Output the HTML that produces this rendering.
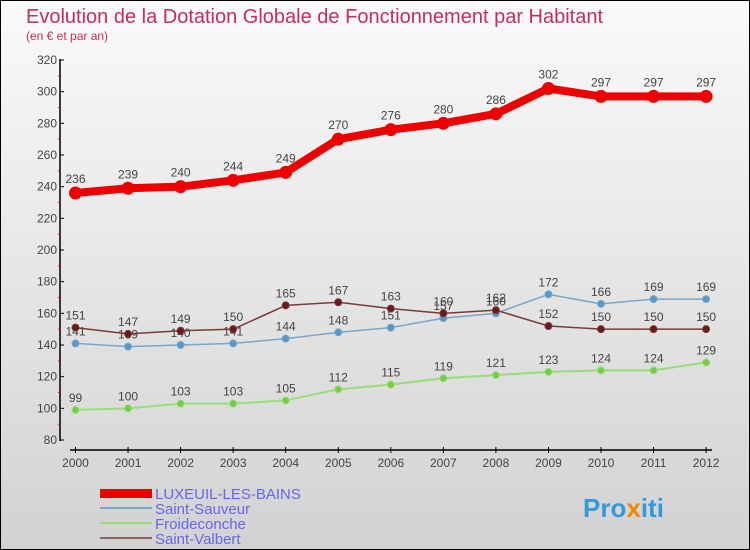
<!DOCTYPE html>
<html><head><meta charset="utf-8"><style>
body{margin:0}
#c{width:750px;height:550px;position:relative;box-sizing:border-box;border:1px solid #000;background:linear-gradient(#fafafa,#d2d2d2);font-family:"Liberation Sans",sans-serif;overflow:hidden}
</style></head><body>
<div id="c">
<svg id="s" width="750" height="550" style="position:absolute;left:-1px;top:-1px">
<text x="26" y="23" font-size="20" fill="#c0305a">Evolution de la Dotation Globale de Fonctionnement par Habitant</text>
<text x="26" y="40" font-size="12" fill="#c0305a">(en € et par an)</text>
<g id="ax"></g><g id="series"></g>
<g>
<rect x="100" y="489" width="52" height="9" fill="#e00"/>
<text x="155" y="499" font-size="15" fill="#6666ee">LUXEUIL-LES-BAINS</text>
<rect x="100" y="507" width="52" height="2" fill="#7aa6c8"/>
<text x="155" y="514" font-size="15" fill="#6666ee">Saint-Sauveur</text>
<rect x="100" y="522" width="52" height="2" fill="#99dd77"/>
<text x="155" y="529" font-size="15" fill="#6666ee">Froideconche</text>
<rect x="100" y="537" width="52" height="2" fill="#8b6565"/>
<text x="155" y="544" font-size="15" fill="#6666ee">Saint-Valbert</text>
</g>
<text x="583" y="517" font-size="26" font-weight="bold" fill="#3399dd">Pro<tspan fill="#ee8800">x</tspan>iti</text>
</svg>
</div>
<script>
const years=[2000,2001,2002,2003,2004,2005,2006,2007,2008,2009,2010,2011,2012];
const luxeuil=[236,239,240,244,249,270,276,280,286,302,297,297,297];
const sauveur=[141,139,140,141,144,148,151,157,160,172,166,169,169];
const froide=[99,100,103,103,105,112,115,119,121,123,124,124,129];
const valbert=[151,147,149,150,165,167,163,160,162,152,150,150,150];
const yTicks=[80,100,120,140,160,180,200,220,240,260,280,300,320];
const NS="http://www.w3.org/2000/svg";
const X=i=>75.5+i*52.55, Y=v=>440-(v-80)*380/240;
function mk(t,a,p){const e=document.createElementNS(NS,t);for(const k in a)e.setAttribute(k,a[k]);p.appendChild(e);return e;}
const ax=document.getElementById('ax');
let l=mk('line',{x1:60,y1:59,x2:60,y2:441,stroke:'#000','stroke-width':1.5},ax);


l=mk('line',{x1:70,y1:450,x2:712,y2:450,stroke:'#000','stroke-width':1.5},ax);


yTicks.forEach((v,i)=>{
 mk('line',{x1:60,y1:Y(v),x2:64,y2:Y(v),stroke:'#000'},ax);
 if(i<yTicks.length-1)mk('line',{x1:58,y1:Y(v+10),x2:60,y2:Y(v+10),stroke:'#f00'},ax);
 const t=mk('text',{x:57,y:Y(v)+4,'font-size':12,fill:'#444','text-anchor':'end'},ax);t.textContent=v;
 
 
});
years.forEach((y,i)=>{
 mk('line',{x1:X(i),y1:447,x2:X(i),y2:453,stroke:'#000'},ax);
 const t=mk('text',{x:X(i),y:467,'font-size':12,fill:'#444','text-anchor':'middle'},ax);t.textContent=y;
 
 
});
const sg=document.getElementById('series');
function draw(vals,col,dot,w,r,name,dy){
 const g=mk('g',{},sg);
 
 
 const p=mk('polyline',{points:vals.map((v,i)=>X(i)+','+Y(v)).join(' '),fill:'none',stroke:col,'stroke-width':w,'stroke-linejoin':'round'},g);
 
 
 vals.forEach((v,i)=>{
  const c=mk('circle',{cx:X(i),cy:Y(v),r:r,fill:dot,stroke:col,'stroke-width':1},g);
  
  
  const t=mk('text',{x:X(i),y:Y(v)+dy,'font-size':12,fill:'#444','text-anchor':'middle'},g);t.textContent=v;
  
  
 });
}
draw(froide,'#99dd77','#77cc44',2,3.5,'froideconche',-8);
draw(sauveur,'#7aa6c8','#5599cc',1.5,3.5,'saint-sauveur',-8);
draw(valbert,'#7a3a3a','#6a1a1a',1.5,3.5,'saint-valbert',-8);
draw(luxeuil,'#ee0000','#ee0000',8,6,'luxeuil',-10);
</script>
</body></html>
